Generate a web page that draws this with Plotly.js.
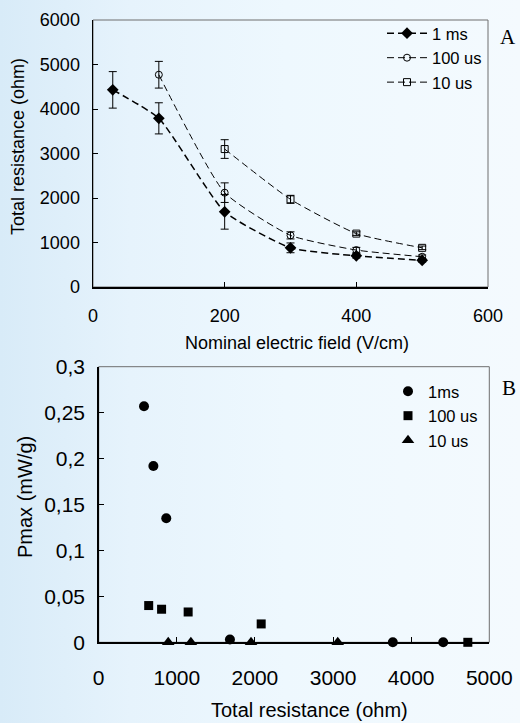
<!DOCTYPE html>
<html>
<head>
<meta charset="utf-8">
<script src="https://cdn.plot.ly/plotly-3.0.1.min.js"></script>
<style>
html,body{margin:0;padding:0;}
body{width:520px;height:723px;background:linear-gradient(90deg,#d8ebf8 0%,#e6f3fc 25%,#eef8fe 55%,#f4fafe 100%);}
#chart{width:520px;height:723px;}
</style>
</head>
<body>
<div id="chart"></div>
<script>
// Panel A: total resistance vs nominal electric field
const fieldA_1ms = [30, 100, 200, 300, 400, 500];
const resA_1ms = [4430, 3790, 1690, 880, 700, 600];
const errA_1ms = [410, 350, 390, 110, 50, 40];

const fieldA_100us = [100, 200, 300, 400, 500];
const resA_100us = [4770, 2120, 1160, 830, 680];
const errA_100us = [300, 220, 80, 60, 40];

const fieldA_10us = [200, 300, 400, 500];
const resA_10us = [3100, 1970, 1200, 880];
const errA_10us = [210, 90, 40, 40];

// Panel B: Pmax vs total resistance
const resB_1ms = [580, 700, 865, 1680, 3765, 4410];
const pmaxB_1ms = [0.257, 0.192, 0.135, 0.003, 0, 0];
const resB_100us = [640, 805, 1145, 2080, 4725];
const pmaxB_100us = [0.040, 0.036, 0.033, 0.020, 0];
const resB_10us = [890, 1180, 1950, 3060];
const pmaxB_10us = [0, 0, 0, 0];

const namesA = ['1 ms', '100 us', '10 us'];
const namesB = ['1ms', '100 us', '10 us'];

const F = 'Liberation Sans, Arial, sans-serif';

function errObj(arr){
  return {type:'data', array:arr, visible:true, color:'#000', thickness:1, width:4};
}

const traces = [
  {x:fieldA_1ms, y:resA_1ms, name:namesA[0], type:'scatter', mode:'lines+markers',
   xaxis:'x', yaxis:'y', legend:'legend', cliponaxis:false,
   line:{color:'#000', width:1.5, dash:'7px,4px', shape:'spline', smoothing:0.5},
   marker:{symbol:'diamond', size:9, color:'#000'}, error_y:errObj(errA_1ms)},
  {x:fieldA_100us, y:resA_100us, name:namesA[1], type:'scatter', mode:'lines+markers',
   xaxis:'x', yaxis:'y', legend:'legend', cliponaxis:false,
   line:{color:'#000', width:1, dash:'7px,4px', shape:'spline', smoothing:0.5},
   marker:{symbol:'circle-open', size:7, color:'#000', line:{width:1}}, error_y:errObj(errA_100us)},
  {x:fieldA_10us, y:resA_10us, name:namesA[2], type:'scatter', mode:'lines+markers',
   xaxis:'x', yaxis:'y', legend:'legend', cliponaxis:false,
   line:{color:'#000', width:1, dash:'7px,4px', shape:'spline', smoothing:0.5},
   marker:{symbol:'square-open', size:7, color:'#000', line:{width:1}}, error_y:errObj(errA_10us)},
  {x:resB_1ms, y:pmaxB_1ms, name:namesB[0], type:'scatter', mode:'markers',
   xaxis:'x2', yaxis:'y2', legend:'legend2', cliponaxis:false,
   marker:{symbol:'circle', size:10, color:'#000'}},
  {x:resB_100us, y:pmaxB_100us, name:namesB[1], type:'scatter', mode:'markers',
   xaxis:'x2', yaxis:'y2', legend:'legend2', cliponaxis:false,
   marker:{symbol:'square', size:9, color:'#000'}},
  {x:resB_10us, y:pmaxB_10us, name:namesB[2], type:'scatter', mode:'markers',
   xaxis:'x2', yaxis:'y2', legend:'legend2', cliponaxis:false,
   marker:{symbol:'triangle-up', size:11, color:'#000'}}
];

const W = 520, H = 723;
const px = v => v / W;
const py = v => 1 - v / H;

const axisCommon = {
  showgrid:false, zeroline:false, showline:true, linecolor:'#000', linewidth:1.5,
  ticks:'inside', ticklen:5, tickcolor:'#000', tickwidth:1, fixedrange:true
};

const layout = {
  width:W, height:H,
  margin:{l:0, r:0, t:0, b:0},
  paper_bgcolor:'rgba(0,0,0,0)', plot_bgcolor:'rgba(0,0,0,0)',
  separators:',.',
  showlegend:true,
  font:{family:F, color:'#000'},
  xaxis:Object.assign({}, axisCommon, {
    domain:[px(93), px(488)], anchor:'y', range:[0,600], dtick:200, tick0:0,
    tickfont:{size:18, family:F}, ticklabelstandoff:12
  }),
  yaxis:Object.assign({}, axisCommon, {
    domain:[py(287), py(20)], anchor:'x', range:[0,6000], dtick:1000, tick0:0,
    tickfont:{size:18, family:F}, ticklabelstandoff:8
  }),
  xaxis2:Object.assign({}, axisCommon, {
    domain:[px(98.7), px(489.3)], anchor:'y2', range:[0,5000], dtick:1000, tick0:0,
    tickfont:{size:21, family:F}, ticklabelstandoff:16
  }),
  yaxis2:Object.assign({}, axisCommon, {
    domain:[py(642.3), py(366.7)], anchor:'x2', range:[0,0.3], dtick:0.05, tick0:0,
    tickfont:{size:21, family:F}, ticklabelstandoff:8
  }),
  legend:{x:px(382), y:py(16), xanchor:'left', yanchor:'top', bgcolor:'rgba(0,0,0,0)',
    font:{size:16.5, family:F}, itemwidth:40, tracegroupgap:0, borderwidth:0},
  legend2:{x:px(388), y:py(374), xanchor:'left', yanchor:'top', bgcolor:'rgba(0,0,0,0)',
    font:{size:16.5, family:F}, itemwidth:30, tracegroupgap:0, borderwidth:0},
  shapes:[
    {type:'rect', xref:'x domain', yref:'y domain', x0:0, x1:1, y0:0, y1:1,
     line:{color:'#6e6e6e', width:1}, layer:'below'},
    {type:'rect', xref:'x2 domain', yref:'y2 domain', x0:0, x1:1, y0:0, y1:1,
     line:{color:'#6e6e6e', width:1}, layer:'below'}
  ],
  annotations:[
    {text:'Nominal electric field (V/cm)', xref:'paper', yref:'paper', x:px(297), y:py(343),
     showarrow:false, font:{size:18, family:F}, xanchor:'center', yanchor:'middle'},
    {text:'Total resistance (ohm)', xref:'paper', yref:'paper', x:px(18), y:py(147),
     showarrow:false, textangle:-90, font:{size:18, family:F}, xanchor:'center', yanchor:'middle'},
    {text:'Total resistance (ohm)', xref:'paper', yref:'paper', x:px(309), y:py(710),
     showarrow:false, font:{size:20, family:F}, xanchor:'center', yanchor:'middle'},
    {text:'Pmax (mW/g)', xref:'paper', yref:'paper', x:px(25), y:py(497),
     showarrow:false, textangle:-90, font:{size:20, family:F}, xanchor:'center', yanchor:'middle'},
    {text:'A', xref:'paper', yref:'paper', x:px(508), y:py(37),
     showarrow:false, font:{size:21, family:'Liberation Serif, Times New Roman, serif'}, xanchor:'center', yanchor:'middle'},
    {text:'B', xref:'paper', yref:'paper', x:px(509), y:py(388),
     showarrow:false, font:{size:21, family:'Liberation Serif, Times New Roman, serif'}, xanchor:'center', yanchor:'middle'}
  ]
};

Plotly.newPlot('chart', traces, layout, {displayModeBar:false, staticPlot:true});
</script>
</body>
</html>
